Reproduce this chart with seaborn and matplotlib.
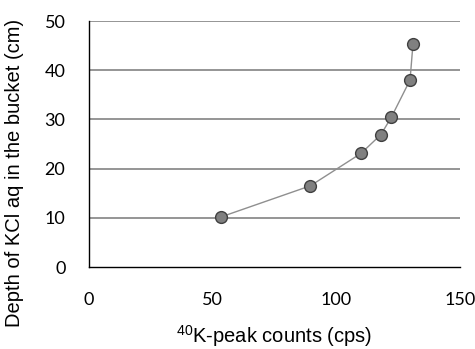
import matplotlib
matplotlib.use("Agg")
import matplotlib.pyplot as plt
import seaborn as sns
import pandas as pd

counts = [53.5, 89.5, 110.0, 118.0, 122.2, 129.8, 131.0]
depth = [10.2, 16.5, 23.1, 26.9, 30.4, 38.0, 45.4]

df = pd.DataFrame({"counts": counts, "depth": depth})

sns.set_style("white")
plt.rcParams["font.family"] = ["Lato", "DejaVu Sans"]
plt.rcParams["text.color"] = "black"
plt.rcParams["axes.labelcolor"] = "black"
plt.rcParams["xtick.color"] = "black"
plt.rcParams["ytick.color"] = "black"
plt.rcParams["mathtext.fontset"] = "custom"
plt.rcParams["mathtext.rm"] = "Liberation Sans"

W, H = 475, 349
fig = plt.figure(figsize=(4.75, 3.49), dpi=100)
ax = fig.add_axes([89 / W, 1 - 267 / H, (460 - 89) / W, (267 - 21) / H])

for yv in [10, 20, 30, 40, 50]:
    ax.axhline(yv, color="#8c8c8c", lw=1.3, zorder=0)

sns.lineplot(data=df, x="counts", y="depth", ax=ax, color="#8f8f8f", lw=1.0,
             marker="o", markersize=8.5, markerfacecolor="#808080",
             markeredgecolor="#404040", markeredgewidth=1.0, sort=False)

ax.set_xlim(0, 150)
ax.set_ylim(0, 50)
ax.set_xticks([0, 50, 100, 150])
ax.set_yticks([0, 10, 20, 30, 40, 50])
for s in ["top", "right"]:
    ax.spines[s].set_visible(False)
for s in ["left", "bottom"]:
    ax.spines[s].set_color("black")
    ax.spines[s].set_linewidth(1.0)
ax.tick_params(axis="x", direction="in", length=6, width=1, color="black",
               pad=18, labelsize=13)
ax.tick_params(axis="y", length=0, pad=17, labelsize=13)
ax.set_xlabel("")
ax.set_ylabel("")

fig.text(274 / W, 1 - 336 / H, "$\\mathregular{^{40}}$K-peak counts (cps)",
         fontsize=14.5, family="Liberation Sans", ha="center", va="center")
fig.text(15 / W, 1 - 173 / H, "Depth of KCl aq in the bucket (cm)",
         fontsize=14.5, family="Liberation Sans", ha="center", va="center",
         rotation=90)

fig.savefig("out.png", dpi=100)
